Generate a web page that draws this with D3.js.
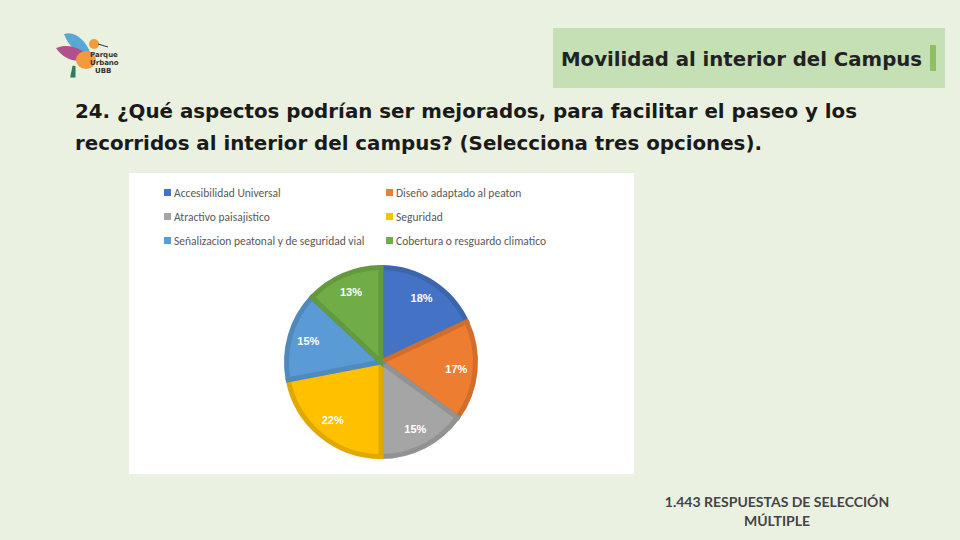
<!DOCTYPE html>
<html><head><meta charset="utf-8">
<script src="https://cdn.jsdelivr.net/npm/d3@7"></script>
<style>body{margin:0;background:#ebf1e1;}svg{display:block}</style>
</head><body>
<svg id="chart" width="960" height="540"></svg>
<script>
var categories = ["Accesibilidad Universal","Diseño adaptado al peaton","Atractivo paisajistico","Seguridad","Señalizacion peatonal y de seguridad vial","Cobertura o resguardo climatico"];
var values = [18,17,15,22,15,13];
var colors = ["#4472c4","#ed7d31","#a5a5a5","#ffc000","#5b9bd5","#70ad47"];

var svg = d3.select("#chart");
svg.append("rect").attr("width",960).attr("height",540).attr("fill","#ebf1e1");

// header box
svg.append("rect").attr("x",553).attr("y",28).attr("width",392).attr("height",60).attr("fill","#c5e0b4");
svg.append("rect").attr("x",930).attr("y",45).attr("width",6).attr("height",26).attr("fill","#8fbf5f");
svg.append("text").attr("x",561).attr("y",66).attr("font-family","DejaVu Sans").attr("font-weight","bold")
	.attr("font-size",20).attr("textLength",361).attr("lengthAdjust","spacingAndGlyphs")
	.attr("fill","#222").text("Movilidad al interior del Campus");

// logo (rough)
var logo = svg.append("g");
logo.append("path").attr("d","M64,34 C76,30 86,42 90,52 C82,56 70,50 64,34Z").attr("fill","#5aa7d6");
logo.append("path").attr("d","M56,48 C70,42 84,50 90,58 C78,64 64,60 56,48Z").attr("fill","#b0508c");
logo.append("ellipse").attr("cx",86).attr("cy",60).attr("rx",10).attr("ry",9).attr("fill","#f39a3a");
logo.append("circle").attr("cx",94).attr("cy",44).attr("r",5).attr("fill","#f39a3a");
logo.append("line").attr("x1",98).attr("y1",44).attr("x2",108).attr("y2",47).attr("stroke","#333");
logo.append("path").attr("d","M74,66 L72,76 L74,76Z").attr("fill","#2e7d5a").attr("stroke","#2e7d5a").attr("stroke-width",3);
["Parque","Urbano","UBB"].forEach(function(t,i){
	logo.append("text").attr("x",i==2?95:90).attr("y",57+i*8).attr("font-family","DejaVu Sans").attr("font-weight","bold")
		.attr("font-size",7).attr("fill","#333").text(t);
});

// question
svg.append("text").attr("font-family","DejaVu Sans").attr("font-weight","bold").attr("font-size",20).attr("fill","#1a1a1a")
	.selectAll("tspan").data([["24. ¿Qué aspectos podrían ser mejorados, para facilitar el paseo y los",782],["recorridos al interior del campus? (Selecciona tres opciones).",687]])
	.join("tspan").attr("x",75).attr("y",function(d,i){return 118+i*32;})
	.attr("textLength",function(d){return d[1];}).attr("lengthAdjust","spacingAndGlyphs")
	.text(function(d){return d[0];});

// chart panel
svg.append("rect").attr("x",129).attr("y",173).attr("width",505).attr("height",301).attr("fill","#fff");

var leg = svg.append("g").attr("font-family","Carlito, Liberation Sans, Arial").attr("font-size",11.5).attr("fill","#595959");
categories.forEach(function(c,i){
	var x = 164 + (i%2)*222, y = 193 + Math.floor(i/2)*24;
	leg.append("rect").attr("x",x).attr("y",y-4).attr("width",7).attr("height",7).attr("fill",colors[i]);
	leg.append("text").attr("x",x+10).attr("y",y+3.5).text(c);
});

var cx = 381, cy = 362, r = 97;
var pie = d3.pie().sort(null)(values);
var arc = d3.arc().innerRadius(0).outerRadius(r-2.5);
var g = svg.append("g").attr("transform","translate("+cx+","+cy+")");
g.selectAll("path").data(pie).join("path").attr("d",arc)
	.attr("fill",function(d,i){return colors[i];})
	.attr("stroke",function(d,i){return d3.color(colors[i]).darker(0.35);})
	.attr("stroke-width",5).attr("stroke-linejoin","miter");
var lab = d3.arc().innerRadius(r*0.78).outerRadius(r*0.78);
g.selectAll("text").data(pie).join("text")
	.attr("transform",function(d){return "translate("+lab.centroid(d)+")";})
	.attr("text-anchor","middle").attr("dy","0.35em")
	.attr("font-family","Liberation Sans, Arial").attr("font-weight","bold").attr("font-size",11).attr("fill","#fff")
	.text(function(d){return d.data+"%";});

// footer
svg.append("text").attr("font-family","Lato, DejaVu Sans").attr("font-weight","bold").attr("font-size",14).attr("fill","#444").attr("text-anchor","middle")
	.selectAll("tspan").data(["1.443  RESPUESTAS DE SELECCIÓN","MÚLTIPLE"])
	.join("tspan").attr("x",777).attr("y",function(d,i){return 507+i*19;}).text(function(d){return d;});
</script>
</body></html>
